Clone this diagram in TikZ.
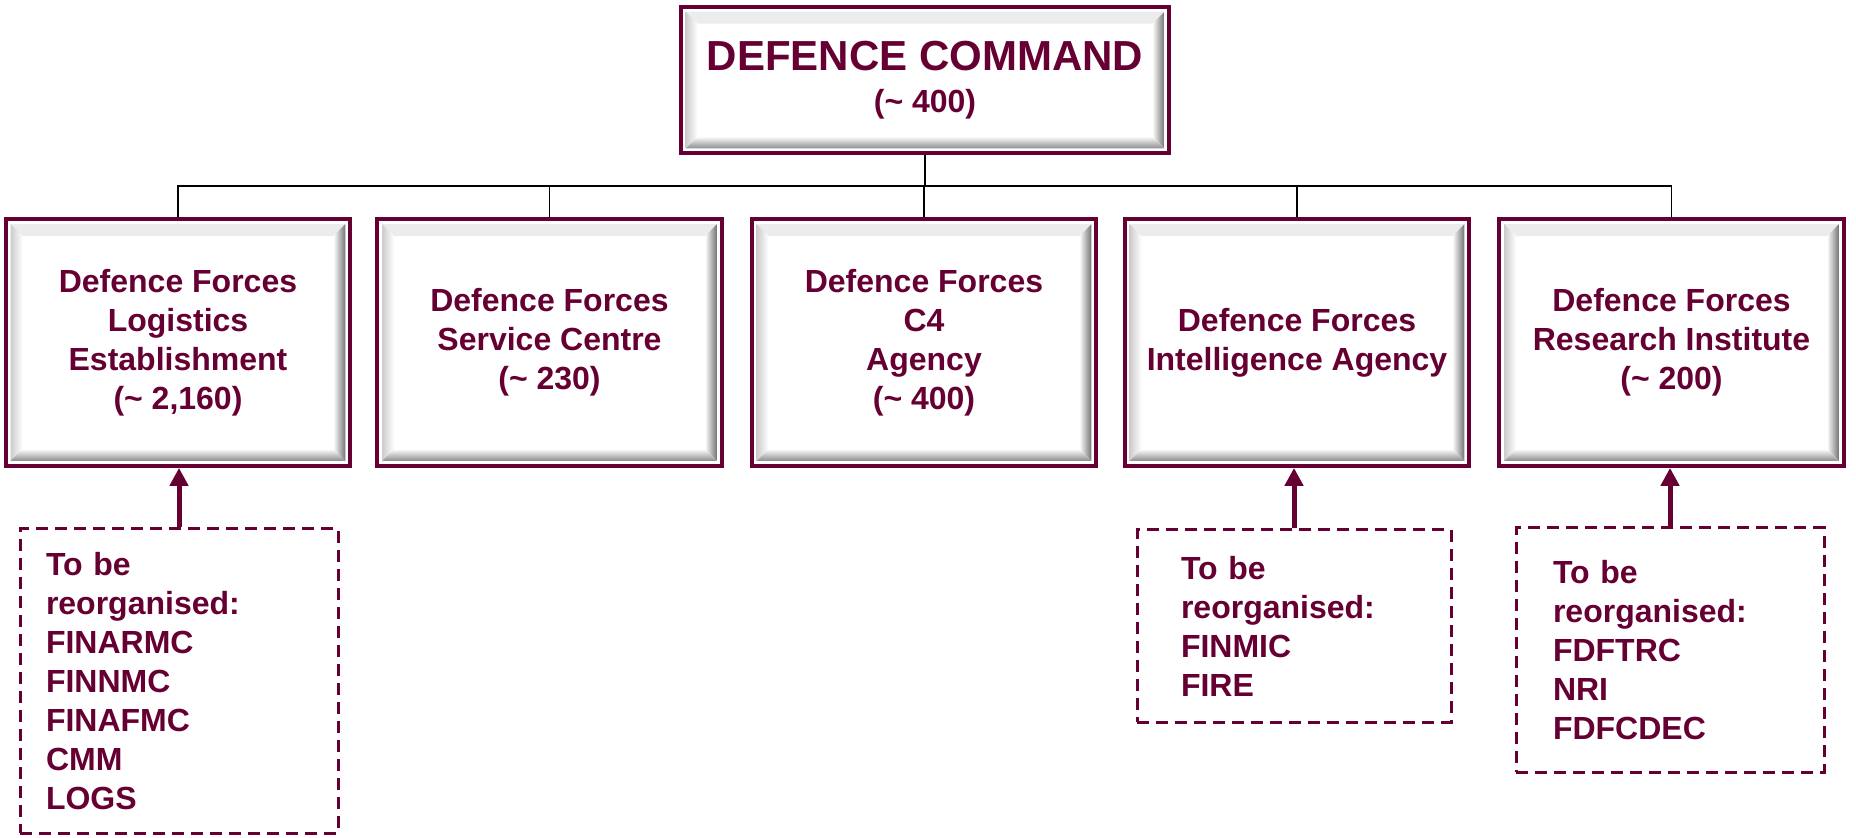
\documentclass[tikz,border=0pt]{standalone}
\usepackage{fontspec}
\setmainfont{Liberation Sans}
\usetikzlibrary{calc,arrows.meta}
\definecolor{maroon}{HTML}{660033}
\tikzset{
  unit/.style={minimum width=174pt, minimum height=125pt, inner sep=0pt, align=center,
    text=maroon, font=\fontsize{16}{19.5}\selectfont\bfseries},
  note/.style={draw=maroon, line width=1.5pt, dash pattern=on 6pt off 3.5pt, align=left,
    text=maroon, font=\fontsize{16}{19.5}\selectfont\bfseries, inner ysep=0pt},
  link/.style={draw=black, line width=0.9pt},
  feed/.style={draw=maroon, line width=2.5pt, -{Triangle[length=9pt,width=9pt]}}
}
\begin{document}
\begin{tikzpicture}[x=0.5pt, y=-0.5pt]
  \useasboundingbox (0,0) rectangle (1856,838);
  \node[unit, minimum width=246pt, minimum height=75pt,
        font=\fontsize{21}{21}\selectfont\bfseries] (cmd) at (925,80)
    {DEFENCE COMMAND\\{\fontsize{16}{21}\selectfont (\textasciitilde{} 400)}};
  \node[unit] (log) at (178,342.5) {Defence Forces\\Logistics\\Establishment\\(\textasciitilde{} 2,160)};
  \node[unit] (svc) at (549.5,342.5) {Defence Forces\\Service Centre\\(\textasciitilde{} 230)};
  \node[unit] (cfour) at (924,342.5) {Defence Forces\\C4\\Agency\\(\textasciitilde{} 400)};
  \node[unit] (intel) at (1297,342.5) {Defence Forces\\Intelligence Agency};
  \node[unit] (res) at (1671.5,342.5) {Defence Forces\\Research Institute\\(\textasciitilde{} 200)};
  % bevelled frames
  \foreach \n in {cmd,log,svc,cfour,intel,res}{
    \coordinate (o1) at ($(\n.north west)+(7,7)$);
    \coordinate (o2) at ($(\n.south east)+(-7,-7)$);
    \coordinate (i1) at ($(\n.north west)+(19,19)$);
    \coordinate (i2) at ($(\n.south east)+(-19,-19)$);
    \fill[gray!15] (o1) -- (o1 -| o2) -- (i1 -| i2) -- (i1) -- cycle;
    \shade[left color=gray!40, right color=white] (o1) -- (i1) -- (i1 |- i2) -- (o1 |- o2) -- cycle;
    \shade[left color=white, right color=black!55] (o1 -| o2) -- (o2) -- (i2) -- (i1 -| i2) -- cycle;
    \shade[top color=white, bottom color=black!45] (o1 |- o2) -- (i1 |- i2) -- (i2) -- (o2) -- cycle;
    \draw[maroon, line width=2pt] ($(\n.north west)+(2,2)$) rectangle ($(\n.south east)+(-2,-2)$);
  }
  % tree lines
  \draw[link] (cmd.south) -- ++(0,31) coordinate (hub);
  \foreach \n in {log,svc,cfour,intel,res}
    \draw[link] (hub) -| (\n.north);
  % units still to be reorganised
  \node[note, text width=133pt, inner xsep=13pt, minimum height=152pt] (noteA) at (179,681)
    {To be\\reorganised:\\FINARMC\\FINNMC\\FINAFMC\\CMM\\LOGS};
  \node[note, text width=113pt, inner xsep=22pt, minimum height=96pt] (noteB) at (1294,626)
    {To be\\reorganised:\\FINMIC\\FIRE};
  \node[note, text width=117pt, inner xsep=18.5pt, minimum height=122pt] (noteC) at (1670,650)
    {To be\\reorganised:\\FDFTRC\\NRI\\FDFCDEC};
  \draw[feed] (noteA.north) -- (noteA.north |- log.south);
  \draw[feed] (noteB.north) -- (noteB.north |- intel.south);
  \draw[feed] (noteC.north) -- (noteC.north |- res.south);
\end{tikzpicture}
\end{document}
